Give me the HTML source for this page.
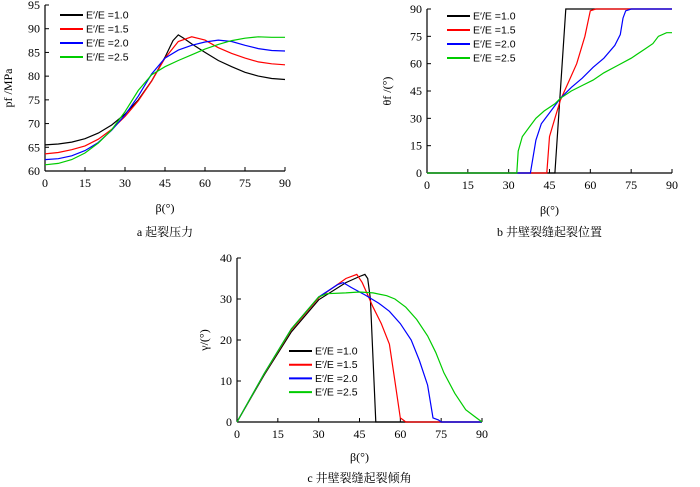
<!DOCTYPE html>
<html><head><meta charset="utf-8"><style>
body{margin:0;background:#fff}
svg{display:block;font-family:"Liberation Serif","Noto Serif CJK SC",serif}
</style></head><body>
<svg id="s" width="700" height="487"></svg>
<script>
const ratios=["1.0","1.5","2.0","2.5"];
const colors=["#000","#f00","#00f","#0c0"];
// Chart a: fracture pressure
const aBeta=[0,5,10,15,20,25,30,35,40,45,50,55,60,65,70,75,80,85,90];
const aBlackBeta=[0,5,10,15,20,25,30,35,40,45,48,50,52,55,60,65,70,75,80,85,90];
const aBlack=[65.5,65.7,66.1,66.8,68,69.7,72,75,79,84,87.5,88.7,88,86.8,85,83.3,82,80.8,80,79.5,79.3];
const aRed=[63.6,63.9,64.5,65.3,66.7,68.8,71.5,74.8,79,83.8,87.3,88.3,87.6,86,84.8,83.8,83,82.6,82.4];
const aBlue=[62.4,62.6,63.2,64.3,66,68.6,71.8,75.8,80.5,83.8,85.5,86.5,87.2,87.6,87.3,86.5,85.8,85.4,85.3];
const aGreen=[61.3,61.6,62.4,63.8,65.9,68.7,72.5,77,80.3,82,83.3,84.5,85.7,86.7,87.5,88,88.3,88.2,88.2];
const aYTicks=[60,65,70,75,80,85,90,95];
const xTicks=[0,15,30,45,60,75,90];
// Chart b: fracture position
const bBlackBeta=[0,47,51,90];const bBlack=[0,0,90,90];
const bRedBeta=[0,44,45,47,49,52,55,58,60,62,90];const bRed=[0,0,20,30,40,50,60,75,89,90,90];
const bBlueBeta=[0,38,40,42,45,49,53,57,61,65,69,71,72,73,75,90];const bBlue=[0,0,18,27,33,41,47,52,58,63,70,76,85,89,90,90];
const bGreenBeta=[0,33,33.5,35,38,40,43,47,49,53,57,61,65,70,75,80,83,85,88,90];const bGreen=[0,0,12,20,26,30,34,38,41,45,48,51,55,59,63,68,71,75,77,77];
const bYTicks=[0,15,30,45,60,75,90];
// Chart c: inclination
const cBlackBeta=[0,10,20,30,40,45,47,48,49,50,51,90];const cBlack=[0,11.5,22,29.8,34,35.5,36,35,30,15,0,0];
const cRedBeta=[0,10,20,30,40,44,46,48,50,53,56,58,60,61,62,90];const cRed=[0,11.7,22.5,30.3,35,36,34,31,28,24,19,10,1,0.5,0,0];
const cBlueBeta=[0,10,20,30,37,39,42,47,52,56,60,64,67,70,72,74,75,90];const cBlue=[0,11.8,22.7,30.5,33.5,34,32.8,31,29,27,24,20,15,9,1,0.5,0,0];
const cGreenBeta=[0,10,20,30,33,40,45,50,55,58,62,66,70,73,76,80,84,87,90];const cGreen=[0,11.8,22.7,30.5,31.3,31.5,31.7,31.5,30.8,30,28,25,21,17,12,7,3,1.5,0];
const cYTicks=[0,10,20,30,40];

const S=document.getElementById('s');const NS='http://www.w3.org/2000/svg';
function mk(t,a,txt){const e=document.createElementNS(NS,t);for(const k in a)e.setAttribute(k,a[k]);if(txt!=null)e.textContent=txt;S.appendChild(e);return e;}
function chart(id,x0,x1,y0,y1,ymin,ymax,yt,series,leg,ylab,ylx,xlab,cap){
  const sx=v=>x0+(v/90)*(x1-x0), sy=v=>y0-(v-ymin)/(ymax-ymin)*(y0-y1);
  let e=mk('line',{x1:x0,y1:y1,x2:x0,y2:y0,stroke:'#000','stroke-width':1.2});
  
  e=mk('line',{x1:x0,y1:y0,x2:x1,y2:y0,stroke:'#000','stroke-width':1.2});
  
  yt.forEach(v=>{mk('line',{x1:x0,y1:sy(v),x2:x0+4,y2:sy(v),stroke:'#000'});
    e=mk('text',{x:x0-5,y:sy(v)+4,'text-anchor':'end','font-size':12},v);
    });
  xTicks.forEach(v=>{mk('line',{x1:sx(v),y1:y0,x2:sx(v),y2:y0-4,stroke:'#000'});
    e=mk('text',{x:sx(v),y:y0+16,'text-anchor':'middle','font-size':12},v);
    });
  series.forEach((s,i)=>{const p=s[0].map((b,j)=>sx(b).toFixed(1)+','+sy(s[1][j]).toFixed(1)).join(' ');
    e=mk('polyline',{points:p,fill:'none',stroke:colors[i],'stroke-width':1.2});
    });
  ratios.forEach((r,i)=>{const ly=leg[1]+i*leg[2];
    e=mk('line',{x1:leg[0],y1:ly,x2:leg[0]+23,y2:ly,stroke:colors[i],'stroke-width':2});
    
    e=mk('text',{x:leg[0]+26,y:ly+3.5,'font-size':10.5,'font-family':'Liberation Sans,sans-serif'},"E\u2032/E =" + r);
    });
  e=mk('text',{x:ylx,y:(y0+y1)/2,'text-anchor':'middle','font-size':12,transform:`rotate(-90 ${ylx} ${(y0+y1)/2})`},ylab);
  
  e=mk('text',{x:(x0+x1)/2,y:xlab,'text-anchor':'middle','font-size':12},'β(°)');
  
  e=mk('text',{x:(x0+x1)/2,y:cap[0],'text-anchor':'middle','font-size':12},cap[1]);
  
}
chart('chart-a',45,285,171,5,60,95,aYTicks,[[aBlackBeta,aBlack],[aBeta,aRed],[aBeta,aBlue],[aBeta,aGreen]],[60,15,14],'pf /MPa',12,212,[236,'a  起裂压力']);
chart('chart-b',427,672,173,9,0,90,bYTicks,[[bBlackBeta,bBlack],[bRedBeta,bRed],[bBlueBeta,bBlue],[bGreenBeta,bGreen]],[447,16,14],'θf /(°)',391,214,[236,'b  井壁裂缝起裂位置']);
chart('chart-c',237,482,422,258,0,40,cYTicks,[[cBlackBeta,cBlack],[cRedBeta,cRed],[cBlueBeta,cBlue],[cGreenBeta,cGreen]],[289,351,13.7],'γ/(°)',208,461,[482,'c  井壁裂缝起裂倾角']);
</script>
</body></html>
